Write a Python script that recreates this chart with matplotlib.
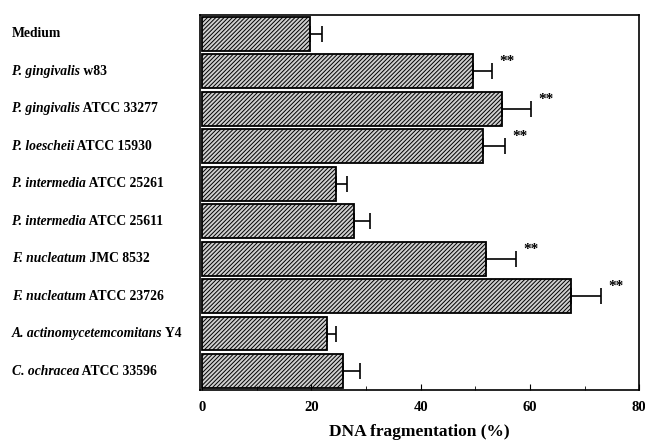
import matplotlib.pyplot as plt
import matplotlib.transforms as mtransforms
from matplotlib.ticker import MultipleLocator

plt.rcParams['font.family'] = 'Liberation Serif'
plt.rcParams['hatch.linewidth'] = 0.7

species = ["", "P. gingivalis", "P. gingivalis", "P. loescheii", "P. intermedia",
           "P. intermedia", "F. nucleatum", "F. nucleatum",
           "A. actinomycetemcomitans", "C. ochracea"]
strains = ["Medium", "w83", "ATCC 33277", "ATCC 15930", "ATCC 25261",
           "ATCC 25611", "JMC 8532", "ATCC 23726", "Y4", "ATCC 33596"]
values = [19.8, 49.5, 54.8, 51.4, 24.5, 27.8, 52.0, 67.6, 22.8, 25.8]
errors = [2.2, 3.6, 5.4, 4.0, 2.0, 2.9, 5.5, 5.4, 1.7, 3.1]
signif = [False, True, True, True, False, False, True, True, False, False]

fig = plt.figure(figsize=(6.45, 4.44), dpi=100)
ax = fig.add_axes([0.310, 0.122, 0.681, 0.844])

pos = list(range(len(values)))
ax.barh(pos, values, height=0.9, color='#cfcfcf', edgecolor='black',
        linewidth=1.3, hatch='////////',
        xerr=[[0] * len(values), errors], capsize=6,
        error_kw=dict(elinewidth=1.2, capthick=1.2, ecolor='black'))

for p, v, e, s in zip(pos, values, errors, signif):
    if s:
        ax.text(v + e + 1.3, p - 0.25, "**", fontsize=11, fontweight='bold',
                ha='left', va='center')

ax.set_xlim(-0.4, 80)
ax.set_ylim(9.5, -0.5)
ax.set_yticks([])
ax.xaxis.set_major_locator(MultipleLocator(20))
ax.xaxis.set_minor_locator(MultipleLocator(10))
ax.tick_params(axis='x', which='both', direction='in', top=False, labelsize=10.5)
ax.tick_params(axis='x', which='major', length=4, pad=8)
ax.tick_params(axis='x', which='minor', length=3)
for lbl in ax.get_xticklabels():
    lbl.set_fontweight('bold')
for sp in ax.spines.values():
    sp.set_linewidth(1.2)

trans = mtransforms.blended_transform_factory(fig.transFigure, ax.transData)
for p, sp_name, st in zip(pos, species, strains):
    if sp_name:
        t1 = ax.text(12 / 645, p, sp_name, transform=trans, fontsize=9.8,
                     fontweight='bold', style='italic', ha='left', va='center')
        ax.annotate(" " + st, xy=(1, 0), xycoords=t1, fontsize=9.8,
                    fontweight='bold', ha='left', va='bottom')
    else:
        ax.text(12 / 645, p, st, transform=trans, fontsize=9.8, fontweight='bold',
                ha='left', va='center')

ax.set_xlabel("DNA fragmentation (%)", fontsize=12.5, fontweight='bold', labelpad=7)

fig.savefig("out.png", dpi=100)
